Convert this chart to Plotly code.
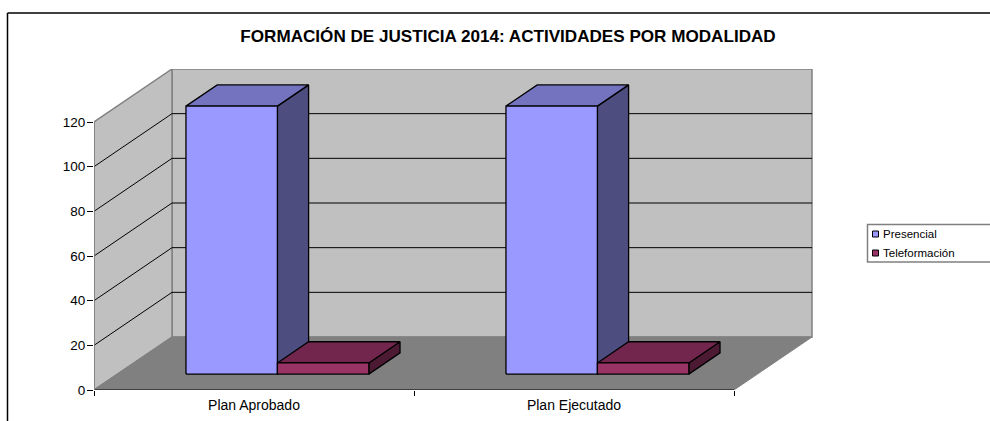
import plotly.graph_objects as go

title = "FORMACIÓN DE JUSTICIA 2014: ACTIVIDADES POR MODALIDAD"
categories = ["Plan Aprobado", "Plan Ejecutado"]
series_names = ["Presencial", "Teleformación"]
presencial = [120, 120]
teleformacion = [5, 5]
y_ticks = [0, 20, 40, 60, 80, 100, 120]

W, H = 990, 421
LEFT, RIGHT, BOTTOM, TOP = 94, 813, 390, 69
CAT_PX = 320.0
UNIT_PX = (390 - 122) / 120.0
DX, DY = 78 / CAT_PX, 53 / UNIT_PX
N = len(categories)
Y_MAX_TICK = y_ticks[-1]


def P(c, v, d):
    """Oblique projection: category position, value, depth (0 front, 1 back)."""
    return c + d * DX, v + d * DY


def poly(points, fill, line=None, lw=1, name=None):
    xs, ys = zip(*[P(*p) for p in points + points[:1]])
    return go.Scatter(x=xs, y=ys, mode="lines", fill="toself", fillcolor=fill,
                      line=dict(color=line or fill, width=lw), hoverinfo="skip",
                      showlegend=False, name=name)


def seg(a, b, color, lw=1):
    xs, ys = zip(P(*a), P(*b))
    return go.Scatter(x=xs, y=ys, mode="lines", line=dict(color=color, width=lw),
                      hoverinfo="skip", showlegend=False)


GRAY = "#808080"
fig = go.Figure()
# walls and floor
fig.add_trace(poly([(0, 0, 1), (N, 0, 1), (N, Y_MAX_TICK, 1), (0, Y_MAX_TICK, 1)], "#C0C0C0", GRAY, 1.5))
fig.add_trace(poly([(0, 0, 0), (0, 0, 1), (0, Y_MAX_TICK, 1), (0, Y_MAX_TICK, 0)], "#C0C0C0", GRAY, 1.5))
fig.add_trace(poly([(0, 0, 0), (N, 0, 0), (N, 0, 1), (0, 0, 1)], GRAY, GRAY, 1))
for v in y_ticks[1:-1]:
    fig.add_trace(seg((0, v, 0), (0, v, 1), "black"))
    fig.add_trace(seg((0, v, 1), (N, v, 1), "black"))
fig.add_trace(seg((0, 0, 0), (N, 0, 0), "black", 1.2))

GAP = 1.5
BAR_W = 1 / (len(series_names) + GAP)
D0, D1 = 0.3, 0.7
palettes = [("#9999FF", "#7373BF", "#4D4D80"), ("#993366", "#73264D", "#4D1A33")]
for ci in range(N):
    for si, vals in enumerate([presencial, teleformacion]):
        x0 = ci + (GAP / 2 + si) * BAR_W
        x1 = x0 + BAR_W
        v = vals[ci]
        front, top, side = palettes[si]
        hover = f"{series_names[si]}, {categories[ci]}: {v}"
        fig.add_trace(poly([(x1, 0, D0), (x1, 0, D1), (x1, v, D1), (x1, v, D0)], side, "black", 1.3))
        fig.add_trace(poly([(x0, v, D0), (x1, v, D0), (x1, v, D1), (x0, v, D1)], top, "black", 1.3))
        tr = poly([(x0, 0, D0), (x1, 0, D0), (x1, v, D0), (x0, v, D0)], front, "black", 1.3, name=hover)
        tr.hoverinfo = "name"
        fig.add_trace(tr)

fig.add_trace(seg((0, 0, 0), (0, Y_MAX_TICK, 0), GRAY, 1.5))

# legend box, drawn to keep the small swatches close to their labels
shapes = [
    dict(type="line", xref="paper", yref="paper", x0=7.5 / W, x1=1, y0=1 - 13 / H, y1=1 - 13 / H,
         line=dict(color="black", width=1.5)),
    dict(type="line", xref="paper", yref="paper", x0=7.5 / W, x1=7.5 / W, y0=0, y1=1 - 13 / H,
         line=dict(color="black", width=1.5)),
    dict(type="rect", xref="paper", yref="paper", x0=867.5 / W, x1=993 / W, y0=1 - 262 / H, y1=1 - 224.5 / H,
         line=dict(color="#808080", width=1.5), fillcolor="white"),
]
annotations = []
for i, (name, pal) in enumerate(zip(series_names, palettes)):
    cy = 234 + i * 19
    shapes.append(dict(type="rect", xref="paper", yref="paper", x0=872.5 / W, x1=878.5 / W,
                       y0=1 - (cy + 3) / H, y1=1 - (cy - 3) / H,
                       line=dict(color="black", width=1), fillcolor=pal[0]))
    annotations.append(dict(text=name, xref="paper", yref="paper", x=883 / W, y=1 - cy / H,
                            xanchor="left", yanchor="middle", showarrow=False,
                            font=dict(family="Liberation Sans", size=11.5, color="black"),
                            xshift=-2))

fig.update_layout(
    width=W, height=H, margin=dict(l=0, r=0, t=0, b=0, pad=0), autosize=False,
    paper_bgcolor="white", plot_bgcolor="white", showlegend=False,
    font=dict(family="Liberation Sans", color="black"),
    title=dict(text=f"<b>{title}</b>", x=508 / W, y=1 - 36 / H, xanchor="center", yanchor="middle",
               font=dict(family="Liberation Sans", size=17.1, color="black")),
    shapes=shapes, annotations=annotations,
    xaxis=dict(domain=[LEFT / W, RIGHT / W], range=[0, (RIGHT - LEFT) / CAT_PX], automargin=False,
               tickmode="array", tickvals=[i + 0.5 for i in range(N)], ticktext=categories,
               ticks="", showgrid=False, zeroline=False, showline=False, fixedrange=True,
               ticklabelstandoff=5, tickfont=dict(size=14),
               minor=dict(tickmode="array", tickvals=list(range(N + 1)), ticks="outside",
                          ticklen=5, tickcolor="black", tickwidth=1, showgrid=False)),
    yaxis=dict(domain=[1 - BOTTOM / H, 1 - TOP / H], range=[0, (BOTTOM - TOP) / UNIT_PX], automargin=False,
               tickmode="array", tickvals=y_ticks, ticks="outside", ticklen=6, tickcolor="black",
               tickwidth=1, showgrid=False, zeroline=False, showline=False, fixedrange=True,
               ticklabelstandoff=-1, tickfont=dict(size=13.5)),
)
fig.write_html("out.html", config=dict(displayModeBar=False),
               post_script="document.documentElement.style.overflow='hidden';document.body.style.margin='0';")
